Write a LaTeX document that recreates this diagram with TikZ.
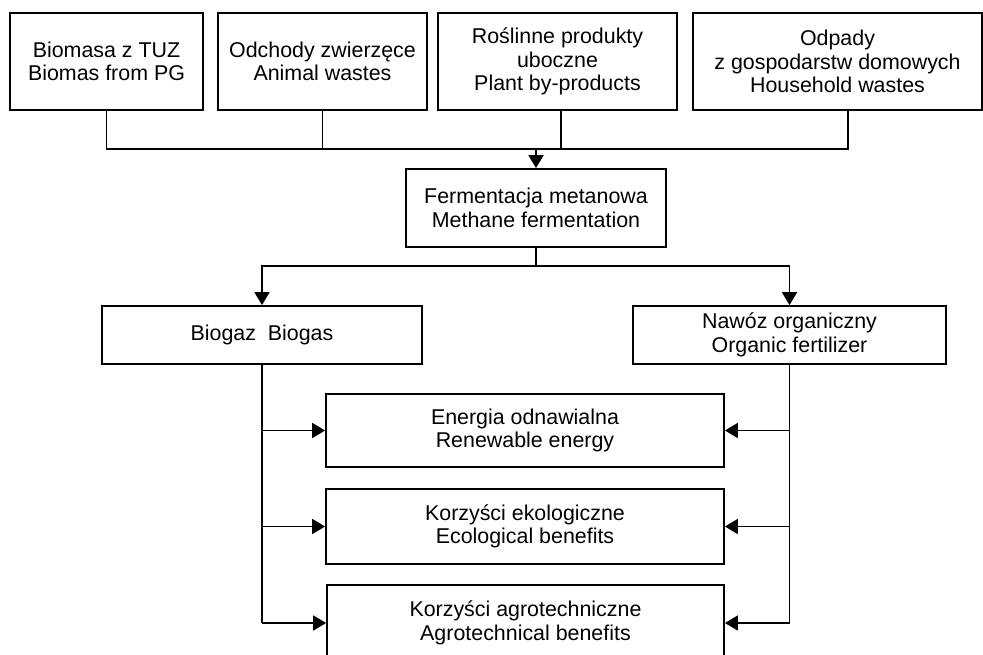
\documentclass[tikz,border=0pt]{standalone}
\usepackage{fontspec}
\setmainfont{Liberation Sans}
\usetikzlibrary{arrows.meta}
\begin{document}
\begin{tikzpicture}[x=1pt,y=-1pt,
  box/.style={draw,line width=1.8pt,rectangle,inner sep=0pt,align=center,
    font=\fontsize{21.4}{23.4}\selectfont},
  conn/.style={line width=1.8pt},
  arr/.style={line width=1.8pt,-{Triangle[length=13pt,width=15pt]}}]
\useasboundingbox (0,0) rectangle (983,655);
% top boxes
\node[box,minimum width=193pt,minimum height=97pt] (b1) at (106.5,61.5) {Biomasa z TUZ\\Biomas from PG};
\node[box,minimum width=209pt,minimum height=97pt] (b2) at (322.5,61.5) {Odchody zwierzęce\\Animal wastes};
\node[box,minimum width=239pt,minimum height=97pt] (b3) at (557.5,61.5) {Roślinne produkty\\uboczne\\Plant by-products};
\node[box,minimum width=289pt,minimum height=97pt] (b4) at (837.5,61.5) {Odpady\\z gospodarstw domowych\\Household wastes};
% fermentation
\node[box,minimum width=260pt,minimum height=78pt] (f) at (536,208) {Fermentacja metanowa\\Methane fermentation};
% products
\node[box,minimum width=320pt,minimum height=58pt] (bg) at (262,335) {Biogaz\ \ Biogas};
\node[box,minimum width=313pt,minimum height=58pt] (nw) at (789.5,335) {Nawóz organiczny\\Organic fertilizer};
% benefits
\node[box,minimum width=398pt,minimum height=73pt] (en) at (525,430.5) {Energia odnawialna\\Renewable energy};
\node[box,minimum width=398pt,minimum height=75pt] (ec) at (525,526.5) {Korzyści ekologiczne\\Ecological benefits};
\node[box,minimum width=397pt,minimum height=76pt] (ag) at (525.5,623) {Korzyści agrotechniczne\\Agrotechnical benefits};
% junction coordinates
\coordinate (bus) at (536,149);
\coordinate (s4) at (848,110);
\coordinate (s3) at (561,110);
\coordinate (split) at (536,266);
% top bus
\draw[conn] (b1.south) -- (b1.south |- bus) -- (s4 |- bus) -- (s4);
\draw[conn] (b2.south) -- (b2.south |- bus);
\draw[conn] (s3) -- (s3 |- bus);
\draw[arr] (bus) -- (f.north);
% split
\draw[conn] (f.south) -- (split);
\draw[arr] (split) -| (bg.north);
\draw[arr] (split) -| (nw.north);
% left branch
\draw[conn] (bg.south) -- (bg.south |- ag.west);
\draw[arr] (bg.south |- en.west) -- (en.west);
\draw[arr] (bg.south |- ec.west) -- (ec.west);
\draw[arr] (bg.south |- ag.west) -- (ag.west);
% right branch
\draw[conn] (nw.south) -- (nw.south |- ag.east);
\draw[arr] (nw.south |- en.east) -- (en.east);
\draw[arr] (nw.south |- ec.east) -- (ec.east);
\draw[arr] (nw.south |- ag.east) -- (ag.east);
\end{tikzpicture}
\end{document}
